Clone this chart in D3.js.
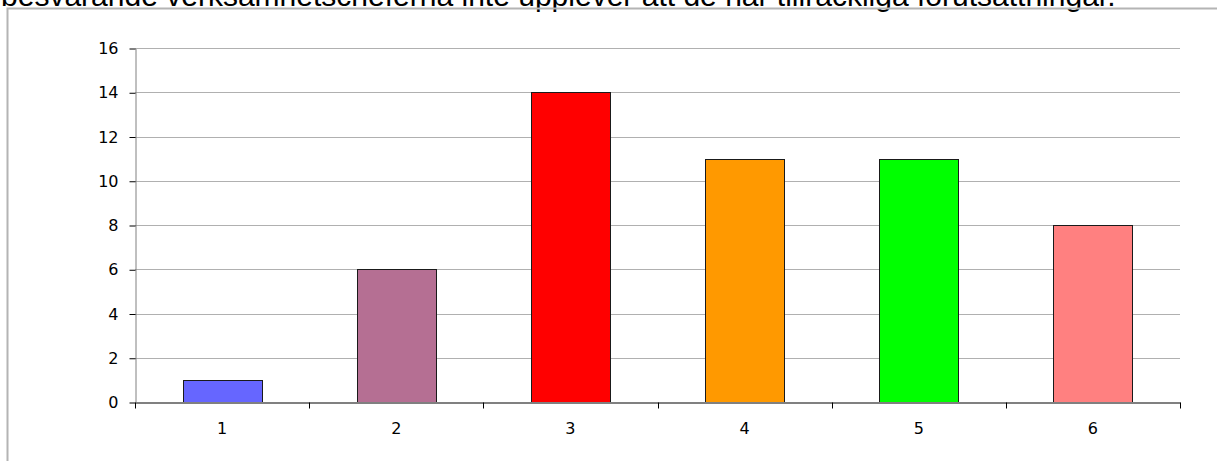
<!DOCTYPE html>
<html>
<head>
<meta charset="utf-8">
<script src="https://cdn.jsdelivr.net/npm/d3@7"></script>
<style>
  html, body { margin: 0; padding: 0; background: #fff; overflow: hidden; }
  svg { display: block; }
</style>
</head>
<body>
<svg id="chart" width="1217" height="461"></svg>
<script>
// Answers per response option
const categories = ["1", "2", "3", "4", "5", "6"];
const values = [1, 6, 14, 11, 11, 8];
const barColors = ["#6666FF", "#B56F93", "#FF0000", "#FF9900", "#00FF00", "#FF8080"];
const yTicks = [0, 2, 4, 6, 8, 10, 12, 14, 16];
const captionText = "besvarande verksamhetscheferna inte upplever att de har tillräckliga förutsättningar.";

const svg = d3.select("#chart");
const W = 1217, H = 461;
const plot = { left: 135, right: 1180, top: 48, bottom: 402 };
const labelFont = "Verdana, DejaVu Sans, sans-serif";

// Caption line from the surrounding text, partly above the page edge
const cap = svg.append("text")
  .attr("x", 1)
  .attr("y", 5.5)
  .attr("font-family", "Arial, Liberation Sans, sans-serif")
  .attr("font-size", 20)
  .attr("fill", "#000")
  .text(captionText);
const capW = cap.node().getComputedTextLength();
cap.attr("font-size", 20 * 1115 / capW);

// Chart frame
svg.append("path")
  .attr("d", `M7.5,${H} V8.5 H${W}`)
  .attr("fill", "none")
  .attr("stroke", "#b4b4b4")
  .attr("stroke-width", 2);

const x = d3.scaleBand().domain(categories).range([plot.left, plot.right]).padding(0);
const y = d3.scaleLinear().domain([0, 16]).range([plot.bottom, plot.top]);

// Horizontal gridlines
svg.append("g")
  .selectAll("line")
  .data(yTicks.filter(d => d > 0))
  .join("line")
  .attr("x1", plot.left)
  .attr("x2", plot.right)
  .attr("y1", d => Math.round(y(d)) + 0.5)
  .attr("y2", d => Math.round(y(d)) + 0.5)
  .attr("stroke", "#b0b0b0")
  .attr("stroke-width", 1);

// Bars: width = step / (1 + gap width 1.2)
const step = x.step();
const bw = step / 2.2;
svg.append("g")
  .selectAll("rect")
  .data(categories.map((c, i) => ({ c, v: values[i], color: barColors[i] })))
  .join("rect")
  .attr("x", d => Math.round(x(d.c) + (step - bw) / 2) + 0.5)
  .attr("y", d => Math.round(y(d.v)) + 0.5)
  .attr("width", Math.round(bw))
  .attr("height", d => Math.round(y(0)) - Math.round(y(d.v)))
  .attr("fill", d => d.color)
  .attr("stroke", "#1a1a1a")
  .attr("stroke-width", 1);

// Y axis
const yAxis = svg.append("g")
  .attr("transform", `translate(${plot.left + 0.5},0.5)`)
  .call(d3.axisLeft(y).tickValues(yTicks).tickSize(6).tickPadding(11).tickSizeOuter(0));
yAxis.select(".domain").attr("stroke", "#808080");
yAxis.selectAll(".tick line").attr("stroke", "#000");
yAxis.selectAll(".tick text")
  .attr("font-family", labelFont)
  .attr("font-size", 16)
  .attr("fill", "#000");

// X axis
const xAxis = svg.append("g")
  .attr("transform", `translate(0,${Math.round(y(0)) + 0.5})`)
  .call(d3.axisBottom(x).tickSize(0).tickPadding(20).tickSizeOuter(0));
xAxis.select(".domain").attr("stroke", "#808080").attr("stroke-width", 2);
xAxis.selectAll(".tick text")
  .attr("font-family", labelFont)
  .attr("font-size", 16)
  .attr("fill", "#000");

// Category boundary tick marks
xAxis.append("g")
  .selectAll("line")
  .data(d3.range(categories.length + 1))
  .join("line")
  .attr("x1", i => Math.round(plot.left + i * step) + 0.5)
  .attr("x2", i => Math.round(plot.left + i * step) + 0.5)
  .attr("y1", 0)
  .attr("y2", 6)
  .attr("stroke", "#000");
</script>
</body>
</html>
